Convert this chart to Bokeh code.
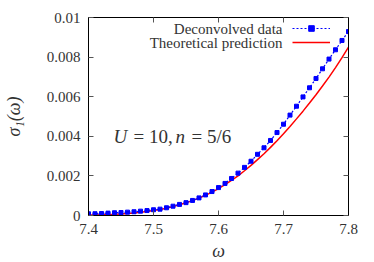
from bokeh.plotting import figure
from bokeh.models import LinearAxis, Legend, LegendItem, Label, FixedTicker, Range1d
from bokeh.embed import file_html
from bokeh.resources import INLINE

omega = [7.40, 7.41, 7.42, 7.43, 7.44, 7.45, 7.46, 7.47, 7.48, 7.49,
         7.50, 7.51, 7.52, 7.53, 7.54, 7.55, 7.56, 7.57, 7.58, 7.59,
         7.60, 7.61, 7.62, 7.63, 7.64, 7.65, 7.66, 7.67, 7.68, 7.69,
         7.70, 7.71, 7.72, 7.73, 7.74, 7.75, 7.76, 7.77, 7.78, 7.79, 7.80]
deconvolved = [0.000085, 0.00009, 0.0001, 0.00012, 0.00014, 0.00015, 0.00017, 0.00019, 0.00022, 0.00025,
               0.00029, 0.00032, 0.00039, 0.00047, 0.00056, 0.00065, 0.00076, 0.00089, 0.00104, 0.00121,
               0.00141, 0.00162, 0.00187, 0.00214, 0.00243, 0.00274, 0.00309, 0.00342, 0.00379, 0.00419,
               0.00461, 0.00507, 0.00552, 0.00599, 0.00645, 0.00692, 0.00741, 0.00790, 0.00837, 0.00884, 0.00929]
theory = [0.00002, 0.00003, 0.00004, 0.00005, 0.00006, 0.00008, 0.0001, 0.00013, 0.00016, 0.0002,
          0.00025, 0.0003, 0.00037, 0.00045, 0.00054, 0.00064, 0.00075, 0.00088, 0.00102, 0.00118,
          0.00136, 0.00156, 0.00177, 0.002, 0.00226, 0.00253, 0.00282, 0.00312, 0.00344, 0.00378,
          0.00413, 0.0045, 0.00488, 0.00527, 0.00568, 0.0061, 0.00654, 0.00699, 0.00747, 0.00797, 0.0085]

x_ticks = [7.4, 7.5, 7.6, 7.7, 7.8]
y_ticks = [0, 0.002, 0.004, 0.006, 0.008, 0.01]
y_tick_labels = {0: "0", 0.002: "0.002", 0.004: "0.004", 0.006: "0.006", 0.008: "0.008", 0.01: "0.01"}
legend_labels = ["Deconvolved data", "Theoretical prediction"]
# annotation "U = 10, n = 5/6" in pieces: (text, italic?)
annotation_parts = [("U", True), ("= 10,", False), ("n", True), ("= 5/6", False)]
annotation_x = [25, 45, 87, 103]

FONT = "Liberation Serif"
TXT = "#333333"

p = figure(frame_width=260, frame_height=198, output_backend="svg", toolbar_location=None,
           x_range=Range1d(7.4, 7.8), y_range=Range1d(0, 0.01),
           min_border_left=88, min_border_right=26, min_border_top=17, min_border_bottom=47)
p.grid.visible = False
p.outline_line_color = "black"
p.outline_line_width = 1
p.background_fill_color = "white"
p.border_fill_color = "white"

for ax in (p.xaxis[0], p.yaxis[0]):
    ax.major_label_text_font = FONT
    ax.major_label_text_font_size = "15px"
    ax.major_label_text_color = TXT
    ax.axis_label_text_font = FONT
    ax.axis_label_text_font_style = "italic"
    ax.axis_label_text_font_size = "18px"
    ax.axis_label_text_color = TXT
    ax.major_tick_in = 5
    ax.major_tick_out = 0
    ax.minor_tick_line_color = None
    ax.axis_line_color = "black"
    ax.major_tick_line_color = "#555555"

p.xaxis[0].ticker = FixedTicker(ticks=x_ticks)
p.yaxis[0].ticker = FixedTicker(ticks=y_ticks)
p.yaxis[0].major_label_overrides = y_tick_labels
p.xaxis[0].axis_label = "ω"
p.yaxis[0].axis_label = "σ₁(ω)"
p.xaxis[0].major_label_standoff = 8
p.yaxis[0].major_label_standoff = 8
p.xaxis[0].axis_label_standoff = 4
p.yaxis[0].axis_label_standoff = 20

top = LinearAxis(ticker=FixedTicker(ticks=x_ticks), major_label_text_font_size="1px",
                 major_label_text_color=None,
                 major_tick_in=5, major_tick_out=0, minor_tick_line_color=None,
                 major_label_standoff=0, major_tick_line_color="#555555")
right = LinearAxis(ticker=FixedTicker(ticks=y_ticks), major_label_text_font_size="1px",
                   major_label_text_color=None,
                   major_tick_in=5, major_tick_out=0, minor_tick_line_color=None,
                   major_label_standoff=0, major_tick_line_color="#555555")
p.add_layout(top, "above")
p.add_layout(right, "right")

r_theory = p.line(omega, theory, line_color="#ff0000", line_width=1.5)
r_line = p.line(omega, deconvolved, line_color="#0000ff", line_width=1.2, line_dash="2 2")
r_pts = p.scatter(omega, deconvolved, marker="square", size=4, fill_color="#0000ff", line_color="#0000ff")

legend = Legend(items=[LegendItem(label=" ", renderers=[r_line, r_pts]),
                       LegendItem(label=" ", renderers=[r_theory])],
                location=(204, 166), glyph_width=38, glyph_height=14, spacing=0,
                label_width=0, label_standoff=0, padding=0, margin=0,
                background_fill_alpha=0, border_line_color=None,
                label_text_font_size="10px", label_text_alpha=0)
p.add_layout(legend)

for i, txt in enumerate(legend_labels):
    p.add_layout(Label(x=194, y=187 - 14 * i, x_units="screen", y_units="screen", text=txt,
                       text_align="right", text_baseline="middle", text_font=FONT,
                       text_font_size="15px", text_color=TXT))

for (txt, ital), xx in zip(annotation_parts, annotation_x):
    p.add_layout(Label(x=xx, y=79, x_units="screen", y_units="screen", text=txt,
                       text_font=FONT, text_font_style="italic" if ital else "normal",
                       text_font_size="19px", text_baseline="middle", text_color=TXT))

open("out.html", "w").write(file_html(p, INLINE))
